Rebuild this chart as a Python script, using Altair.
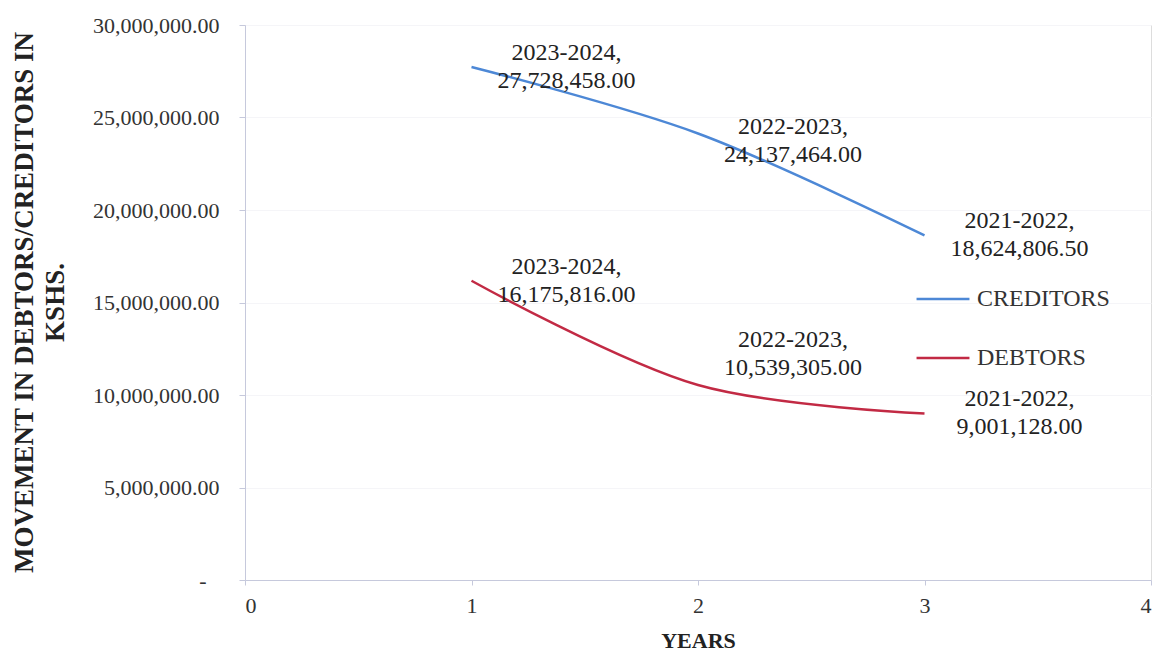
import altair as alt
import pandas as pd

years_x = [1, 2, 3]
periods = ["2023-2024", "2022-2023", "2021-2022"]
creditors = [27728458.00, 24137464.00, 18624806.50]
debtors = [16175816.00, 10539305.00, 9001128.00]

rows = []
for s, vals in [("CREDITORS", creditors), ("DEBTORS", debtors)]:
    for x, p, v in zip(years_x, periods, vals):
        rows.append({"series": s, "x": x, "period": p, "value": v,
                     "label": f"{p},\n{v:,.2f}"})
df = pd.DataFrame(rows)

FONT = "Liberation Serif"
color = alt.Color("series:N",
                  scale=alt.Scale(domain=["CREDITORS", "DEBTORS"],
                                  range=["#4d88d6", "#c22a44"]),
                  legend=alt.Legend(title=None, orient="none", legendX=670, legendY=246,
                                    symbolType="stroke", symbolSize=2800,
                                    symbolStrokeWidth=2.5, labelFontSize=24,
                                    labelFont=FONT, labelColor="#333333",
                                    rowPadding=19, labelOffset=6))

x_axis = alt.Axis(values=[0, 1, 2, 3, 4], format="d", title="YEARS",
                  titleFont=FONT, titleFontSize=22, titleFontWeight="bold",
                  titleColor="#222222", titlePadding=14,
                  labelFont=FONT, labelFontSize=22, labelColor="#333333",
                  labelPadding=10, tickSize=5, tickColor="#c6c9dc",
                  domainColor="#c6c9dc", grid=False)
y_axis = alt.Axis(values=[0, 5e6, 10e6, 15e6, 20e6, 25e6, 30e6],
                  labelExpr="datum.value == 0 ? '-' : format(datum.value, ',.2f')",
                  title=["MOVEMENT IN DEBTORS/CREDITORS IN", "KSHS."],
                  titleFont=FONT, titleFontSize=27, titleFontWeight="bold",
                  titleColor="#222222", titleAngle=-90, titleX=-221, titleY=277,
                  titleAlign="center", titleBaseline="middle", titleLineHeight=31,
                  labelFont=FONT, labelFontSize=22, labelColor="#333333",
                  labelPadding={"condition": {"test": "datum.value == 0", "value": 33}, "value": 20},
                  tickSize=6, tickColor="#c6c9dc",
                  domainColor="#c6c9dc", gridColor="#f5f5f8")

base = alt.Chart(df)
lines = base.mark_line(interpolate="catmull-rom", strokeWidth=2.5).encode(
    x=alt.X("x:Q", scale=alt.Scale(domain=[0, 4], nice=False), axis=x_axis),
    y=alt.Y("value:Q", scale=alt.Scale(domain=[0, 30e6], nice=False), axis=y_axis),
    color=color,
)

text_kw = dict(font=FONT, fontSize=24, color="#222222", lineBreak="\n",
               lineHeight=28, align="center", baseline="middle", dx=95)
label_groups = [
    ("!(datum.x == 2)", -14),
    ("datum.series == 'CREDITORS' && datum.x == 2", -6),
    ("datum.series == 'DEBTORS' && datum.x == 2", -45),
]
label_layers = [
    base.transform_filter(f).mark_text(**text_kw, dy=dy).encode(
        x="x:Q", y="value:Q", text="label:N")
    for f, dy in label_groups
]

chart = alt.layer(lines, *label_layers).properties(
    width=906, height=555,
    padding={"left": 245, "top": 25, "right": 6, "bottom": 71},
    autosize="none",
).configure_view(stroke=None).configure(background="white")

chart.save("out.html", embed_options={"renderer": "svg", "actions": False})
